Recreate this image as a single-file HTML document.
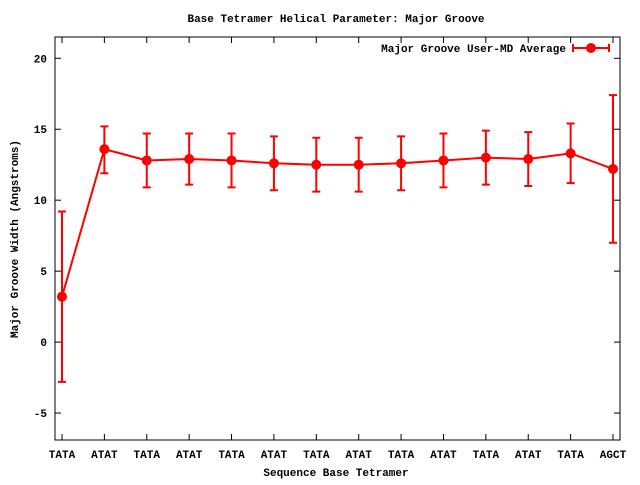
<!DOCTYPE html>
<html><head><meta charset="utf-8"><style>
body{margin:0;background:#fff}
svg text{font-family:"Liberation Mono","DejaVu Sans Mono",monospace;font-size:11px;font-weight:bold;fill:#000}
</style></head><body>
<svg id="chart" width="640" height="480">
<rect x="0" y="0" width="640" height="480" fill="#fff"/>
<text x="336" y="22" text-anchor="middle">Base Tetramer Helical Parameter: Major Groove</text>
<text x="336" y="476" text-anchor="middle">Sequence Base Tetramer</text>
<text transform="translate(18,239) rotate(-90)" text-anchor="middle">Major Groove Width (Angstroms)</text>
<g id="axes"></g>
<g id="series"></g>
<g>
<text x="566" y="52" text-anchor="end">Major Groove User-MD Average</text>
<line x1="573" y1="48" x2="609" y2="48" stroke="#f00" stroke-width="2"/>
<line x1="573" y1="44" x2="573" y2="52" stroke="#f00" stroke-width="2"/>
<line x1="609" y1="44" x2="609" y2="52" stroke="#f00" stroke-width="2"/>
<circle cx="591" cy="48" r="5" fill="#f00"/>
</g>
</svg>
<script>
const categories=["TATA","ATAT","TATA","ATAT","TATA","ATAT","TATA","ATAT","TATA","ATAT","TATA","ATAT","TATA","AGCT"];
const means=[3.2,13.6,12.8,12.9,12.8,12.6,12.5,12.5,12.6,12.8,13.0,12.9,13.3,12.2];
const lows=[-2.8,11.9,10.9,11.1,10.9,10.7,10.6,10.6,10.7,10.9,11.1,11.0,11.2,7.0];
const highs=[9.2,15.2,14.7,14.7,14.7,14.5,14.4,14.4,14.5,14.7,14.9,14.8,15.4,17.4];
const yTicks=[-5,0,5,10,15,20];
const L=55,R=620,T=37,B=440,yMin=-6.9,yMax=21.5,xMin=-0.165,xMax=13.165;
const xs=i=>L+(i-xMin)/(xMax-xMin)*(R-L);
const ys=v=>B-(v-yMin)/(yMax-yMin)*(B-T);
const NS="http://www.w3.org/2000/svg";
function mk(p,tag,a){const e=document.createElementNS(NS,tag);for(const k in a)e.setAttribute(k,a[k]);p.appendChild(e);return e;}
const ax=document.getElementById('axes'),se=document.getElementById('series');
const frame=mk(ax,'rect',{x:L,y:T,width:R-L,height:B-T,fill:'none',stroke:'#000','stroke-width':1});


yTicks.forEach(v=>{const y=ys(v);
mk(ax,'line',{x1:L,y1:y,x2:L+6,y2:y,stroke:'#000'});
mk(ax,'line',{x1:R,y1:y,x2:R-6,y2:y,stroke:'#000'});
const t=mk(ax,'text',{x:L-8,y:y+4,'text-anchor':'end'});t.textContent=v;

});
categories.forEach((c,i)=>{const x=xs(i);
mk(ax,'line',{x1:x,y1:B,x2:x,y2:B-6,stroke:'#000'});
mk(ax,'line',{x1:x,y1:T,x2:x,y2:T+6,stroke:'#000'});
const t=mk(ax,'text',{x:x,y:458,'text-anchor':'middle'});t.textContent=c;

});
const line=mk(se,'polyline',{points:means.map((v,i)=>xs(i)+','+ys(v)).join(' '),fill:'none',stroke:'#f00','stroke-width':2});


means.forEach((v,i)=>{const x=xs(i);
const eb=mk(se,'path',{d:`M${x},${ys(lows[i])}V${ys(highs[i])}M${x-4},${ys(lows[i])}H${x+4}M${x-4},${ys(highs[i])}H${x+4}`,stroke:'#f00','stroke-width':2,fill:'none'});


const c=mk(se,'circle',{cx:x,cy:ys(v),r:5,fill:'#f00'});

});
</script>
</body></html>
